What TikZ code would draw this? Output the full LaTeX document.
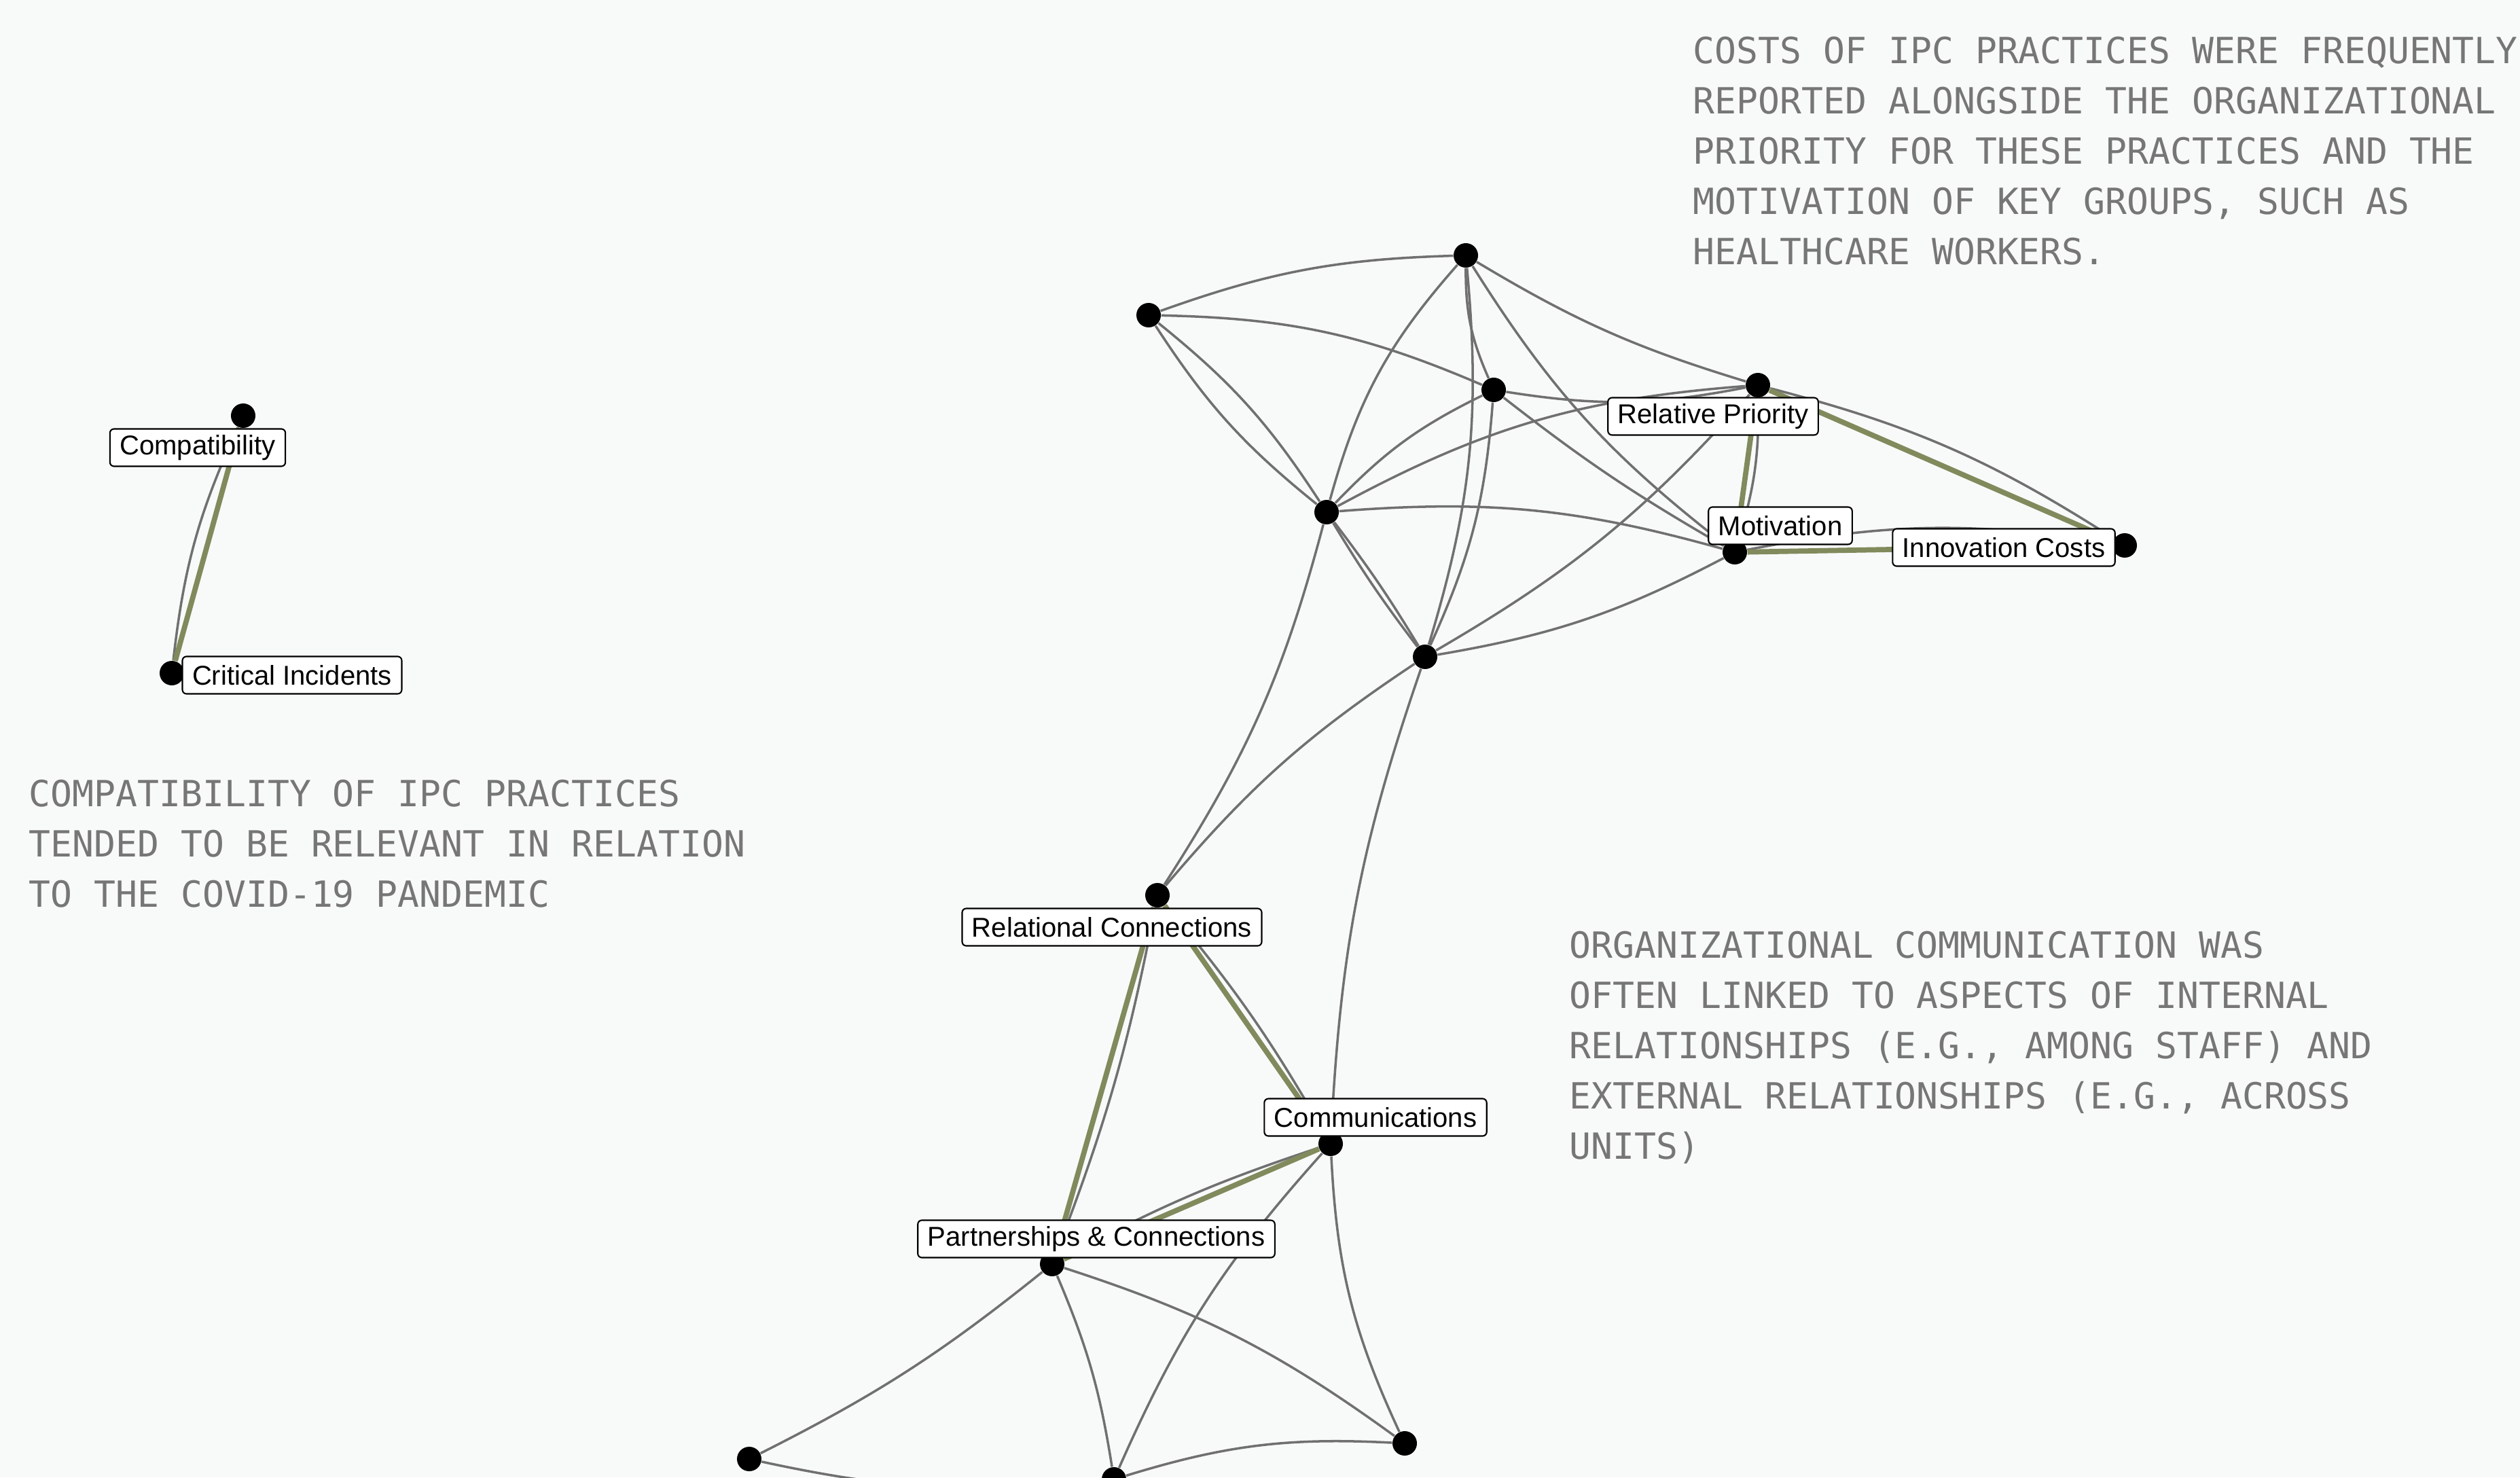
\documentclass[tikz,border=0pt]{standalone}
\usepackage{fontspec}
\setmainfont{Liberation Sans}
\newfontfamily\notemono{DejaVu Sans Mono}
\definecolor{paper}{RGB}{248,250,249}
\definecolor{linkgrey}{RGB}{112,112,112}
\definecolor{linkgreen}{RGB}{128,138,92}
\definecolor{notegrey}{RGB}{118,118,118}
\tikzset{
	dot/.style={circle,fill=black,inner sep=0pt,minimum size=0.36cm},
	tag/.style={draw=black,line width=0.6pt,fill=white,rounded corners=0.06cm,
		inner xsep=0.145cm,inner ysep=0pt,minimum height=0.55cm,
		font=\fontsize{11.4}{13}\selectfont},
	link/.style={draw=linkgrey,line width=1pt},
	strong/.style={draw=linkgreen,line width=2.2pt},
	note/.style={anchor=base west,inner sep=0pt,text=notegrey,
		font=\notemono\fontsize{15.1}{21}\selectfont},
}

\begin{document}
\begin{tikzpicture}
			\useasboundingbox (0,0) rectangle (37.10,21.75);
			\fill[paper] (0,0) rectangle (37.10,21.75);

			% points
			\node[dot] (west) at (16.91,17.11) {};
			\node[dot] (peak) at (21.58,17.99) {};
			\node[dot] (inner) at (21.99,16.01) {};
			\node[dot] (prio) at (25.88,16.08) {};
			\node[dot] (core) at (19.53,14.21) {};
			\node[dot] (motiv) at (25.54,13.62) {};
			\node[dot] (cost) at (31.28,13.72) {};
			\node[dot] (hub) at (20.98,12.08) {};
			\node[dot] (relat) at (17.04,8.57) {};
			\node[dot] (comm) at (19.59,4.91) {};
			\node[dot] (partn) at (15.49,3.14) {};
			\node[dot] (southeast) at (20.68,0.50) {};
			\node[dot] (south) at (16.40,-0.03) {};
			\node[dot] (southwest) at (11.03,0.27) {};
			\node[dot] (compat) at (3.58,15.63) {};
			\node[dot] (crit) at (2.53,11.84) {};

			% grey links
			\draw[link] (west) to[bend left=9] (peak);
			\draw[link] (west) to[bend left=11] (inner);
			\draw[link] (west) to[bend left=9] (core);
			\draw[link] (west) to[bend right=9] (core);
			\draw[link] (peak) to[bend right=13] (core);
			\draw[link] (peak) to[bend left=11] (hub);
			\draw[link] (peak) to[bend right=12] (inner);
			\draw[link] (peak) to[bend right=10] (motiv);
			\draw[link] (peak) to[bend right=7] (prio);
			\draw[link] (inner) to[bend right=10] (core);
			\draw[link] (inner) to[bend left=10] (hub);
			\draw[link] (inner) to[bend right=4] (motiv);
			\draw[link] (inner) to[bend right=10] (prio);
			\draw[link] (core) to[bend left=12] (prio);
			\draw[link] (core) to[bend left=10] (motiv);
			\draw[link] (core) to[bend left=3] (hub);
			\draw[link] (core) to[bend right=3] (hub);
			\draw[link] (core) to[bend left=9] (relat);
			\draw[link] (hub) to[bend right=8] (relat);
			\draw[link] (hub) to[bend right=8] (comm);
			\draw[link] (hub) to[bend right=9] (prio);
			\draw[link] (hub) to[bend right=9] (motiv);
			\draw[link] (prio) to[bend left=9] (motiv);
			\draw[link] (prio) to[bend left=9] (cost);
			\draw[link] (motiv) to[bend left=10] (cost);
			\draw[link] (relat) to[bend left=5] (comm);
			\draw[link] (relat) to[bend left=5] (partn);
			\draw[link] (comm) to[bend right=5] (partn);
			\draw[link] (comm) to[bend right=11] (southeast);
			\draw[link] (comm) to[bend right=9] (south);
			\draw[link] (partn) to[bend left=6] (southwest);
			\draw[link] (partn) to[bend left=7] (south);
			\draw[link] (partn) to[bend left=9] (southeast);
			\draw[link] (south) to[bend left=10] (southeast);
			\draw[link] (southwest) to[bend right=9] (south);
			\draw[link] (compat) to[bend right=9] (crit);

			% green links
			\draw[strong] (compat) -- (crit);
			\draw[strong] (prio) -- (motiv);
			\draw[strong] (prio) -- (cost);
			\draw[strong] (motiv) -- (cost);
			\draw[strong] (relat) -- (comm);
			\draw[strong] (relat) -- (partn);
			\draw[strong] (comm) -- (partn);

			% labels
			\node[tag] (compat-tag) at (2.91,15.16) {Compatibility};
			\node[tag] (crit-tag) at (4.30,11.81) {Critical Incidents};
			\node[tag] (prio-tag) at (25.22,15.62) {Relative Priority};
			\node[tag] (motiv-tag) at (26.21,14.01) {Motivation};
			\node[tag] (cost-tag) at (29.50,13.69) {Innovation Costs};
			\node[tag] (relat-tag) at (16.37,8.10) {Relational Connections};
			\node[tag] (comm-tag) at (20.25,5.30) {Communications};
			\node[tag] (partn-tag) at (16.14,3.51) {Partnerships \& Connections};

			% notes
			\foreach \txt [count=\i from 0] in {COSTS OF IPC PRACTICES WERE FREQUENTLY,
				REPORTED ALONGSIDE THE ORGANIZATIONAL,
				PRIORITY FOR THESE PRACTICES AND THE,
				{MOTIVATION OF KEY GROUPS, SUCH AS},
				HEALTHCARE WORKERS.}
				\node[note] (costnote\i) at (24.92,{20.81-0.74*\i}) {\txt};
			\foreach \txt [count=\i from 0] in {COMPATIBILITY OF IPC PRACTICES,
				TENDED TO BE RELEVANT IN RELATION,
				TO THE COVID-19 PANDEMIC}
				\node[note] (compatnote\i) at (0.42,{9.88-0.74*\i}) {\txt};
			\foreach \txt [count=\i from 0] in {ORGANIZATIONAL COMMUNICATION WAS,
				OFTEN LINKED TO ASPECTS OF INTERNAL,
				{RELATIONSHIPS (E.G., AMONG STAFF) AND},
				{EXTERNAL RELATIONSHIPS (E.G., ACROSS},
				UNITS)}
				\node[note] (commnote\i) at (23.10,{7.65-0.74*\i}) {\txt};
		\end{tikzpicture}
\end{document}
